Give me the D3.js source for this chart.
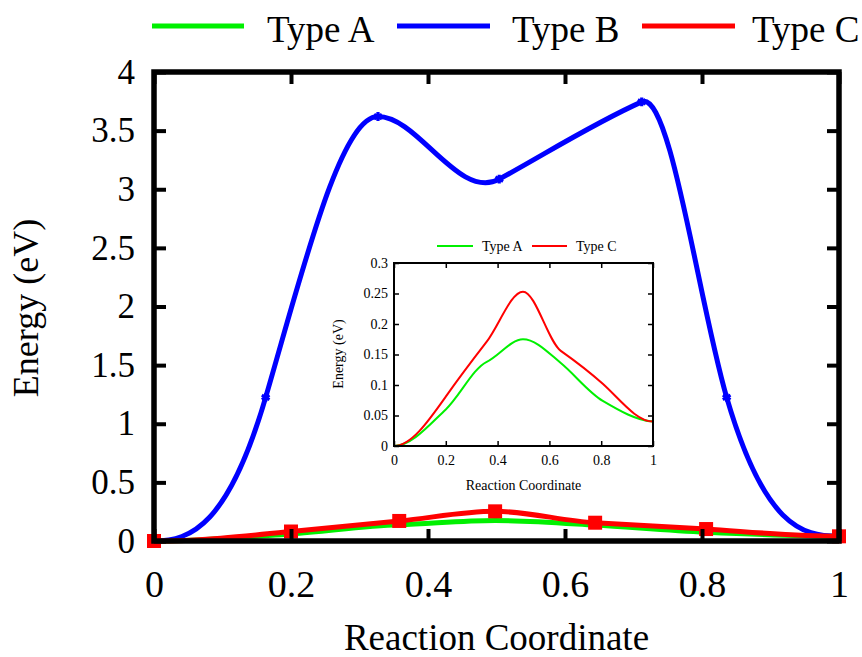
<!DOCTYPE html>
<html><head><meta charset="utf-8">
<script src="https://cdn.jsdelivr.net/npm/d3@7"></script>
<style>
html,body{margin:0;padding:0;background:#fff;}
svg{display:block;}
text{font-family:"Liberation Serif","Times New Roman",serif;fill:#000;}
</style></head>
<body><svg id="chart" width="862" height="657"></svg>
<script>
// ---- data ----
const seriesNames = ["Type A", "Type B", "Type C"];
const seriesColors = ["#00f000", "#0000ff", "#ff0000"];
const xB = [0, 0.163, 0.327, 0.504, 0.712, 0.836, 1];
const yB = [0, 1.225, 3.62, 3.086, 3.745, 1.225, 0.04];
const slopeB = [0, 20, 0, 3.2, 2.6, -20, 0];          // dE/dx at each image
const xAC = [0, 0.2, 0.358, 0.498, 0.644, 0.806, 1];
const yA = [0, 0.060, 0.138, 0.175, 0.136, 0.074, 0.04];
const slopeA = [0, 0.4, 0.2, 0, -0.35, -0.25, -0.03];
const yC = [0, 0.081, 0.171, 0.253, 0.156, 0.102, 0.04];
const slopeC = [0, 0.6, 0.55, 0, -0.3, -0.38, 0];
const xTicks = [0, 0.2, 0.4, 0.6, 0.8, 1];
const yTicksMain = [0, 0.5, 1, 1.5, 2, 2.5, 3, 3.5, 4];
const yTicksInset = [0, 0.05, 0.1, 0.15, 0.2, 0.25, 0.3];

const svg = d3.select("#chart");
const fmt = d => String(d);
const zip = (xs, ys) => xs.map((v,i)=>[v, ys[i]]);
const dataA = zip(xAC, yA), dataB = zip(xB, yB), dataC = zip(xAC, yC);

// cubic Hermite curve through the points with given tangents (converted to pixel space)
function hermite(slopes, xs, ys) {
  const k = (ys(1) - ys(0)) / (xs(1) - xs(0));
  const m = slopes.map(s => s * k);
  return function(context) {
    let pts = [];
    return {
      areaStart(){}, areaEnd(){},
      lineStart(){ pts = []; },
      point(px, py){ pts.push([+px, +py]); },
      lineEnd(){
        if (!pts.length) return;
        context.moveTo(pts[0][0], pts[0][1]);
        for (let i = 0; i < pts.length - 1; i++) {
          const [x0,y0] = pts[i], [x1,y1] = pts[i+1], h = (x1 - x0) / 3;
          context.bezierCurveTo(x0 + h, y0 + m[i]*h, x1 - h, y1 - m[i+1]*h, x1, y1);
        }
      }
    };
  };
}

// ---- main plot ----
const M = {l:154, r:839, t:72, b:541};
const x = d3.scaleLinear().domain([0,1]).range([M.l, M.r]);
const y = d3.scaleLinear().domain([0,4]).range([M.b, M.t]);
const mk = s => d3.line().x(d=>x(d[0])).y(d=>y(d[1])).curve(hermite(s, x, y));

const g = svg.append("g");
g.append("path").datum(dataA).attr("d", mk(slopeA)).attr("fill","none").attr("stroke",seriesColors[0]).attr("stroke-width",5);
g.append("path").datum(dataB).attr("d", mk(slopeB)).attr("fill","none").attr("stroke",seriesColors[1]).attr("stroke-width",5);
g.append("path").datum(dataC).attr("d", mk(slopeC)).attr("fill","none").attr("stroke",seriesColors[2]).attr("stroke-width",5);

// blue markers
g.selectAll(".mb").data(dataB.slice(1,6)).enter().append("path")
  .attr("transform", d=>`translate(${x(d[0])},${y(d[1])})`)
  .attr("d", d3.symbol(d3.symbolAsterisk, 55)())
  .attr("fill","none").attr("stroke",seriesColors[1]).attr("stroke-width",3.2);
// red square markers
g.selectAll(".mc").data(dataC).enter().append("rect")
  .attr("x", d=>x(d[0])-7).attr("y", d=>y(d[1])-7).attr("width",14).attr("height",14)
  .attr("fill",seriesColors[2]);

// axes (inward ticks, mirrored)
const axB = svg.append("g").attr("transform",`translate(0,${M.b})`)
  .call(d3.axisBottom(x).tickValues(xTicks).tickSize(-12).tickPadding(29).tickFormat(fmt));
const axT = svg.append("g").attr("transform",`translate(0,${M.t})`)
  .call(d3.axisTop(x).tickValues(xTicks).tickSize(-12).tickFormat(""));
const axL = svg.append("g").attr("transform",`translate(${M.l},0)`)
  .call(d3.axisLeft(y).tickValues(yTicksMain).tickSize(-12).tickPadding(19).tickFormat(fmt));
const axR = svg.append("g").attr("transform",`translate(${M.r},0)`)
  .call(d3.axisRight(y).tickValues(yTicksMain).tickSize(-12).tickFormat(""));
[axB,axT,axL,axR].forEach(a=>{
  a.select(".domain").remove();
  a.selectAll(".tick line").attr("stroke","#000").attr("stroke-width",4);
});
axB.selectAll("text").attr("font-size",38).attr("font-family","Liberation Serif");
axL.selectAll("text").attr("font-size",35).attr("font-family","Liberation Serif");
svg.append("rect").attr("x",M.l).attr("y",M.t).attr("width",M.r-M.l).attr("height",M.b-M.t)
  .attr("fill","none").attr("stroke","#000").attr("stroke-width",5.5);

svg.append("text").attr("x",(M.l+M.r)/2).attr("y",650).attr("text-anchor","middle")
  .attr("font-size",37).text("Reaction Coordinate");
svg.append("text").attr("transform",`translate(38,308) rotate(-90)`).attr("text-anchor","middle")
  .attr("font-size",36).text("Energy (eV)");

// main legend
const legX = [[152,244,267],[397,490,512],[642,735,752]];
seriesNames.forEach((n,i)=>{
  svg.append("line").attr("x1",legX[i][0]).attr("x2",legX[i][1]).attr("y1",26).attr("y2",26)
    .attr("stroke",seriesColors[i]).attr("stroke-width",5);
  svg.append("text").attr("x",legX[i][2]).attr("y",42).attr("font-size",37).text(n);
});

// ---- inset ----
const I = {l:394, r:653, t:263, b:446};
const xi = d3.scaleLinear().domain([0,1]).range([I.l, I.r]);
const yi = d3.scaleLinear().domain([0,0.3]).range([I.b, I.t]);
const mki = s => d3.line().x(d=>xi(d[0])).y(d=>yi(d[1])).curve(hermite(s, xi, yi));
const ig = svg.append("g");
ig.append("rect").attr("x",I.l).attr("y",I.t).attr("width",I.r-I.l).attr("height",I.b-I.t).attr("fill","#fff");
ig.append("path").datum(dataA).attr("d", mki(slopeA)).attr("fill","none").attr("stroke",seriesColors[0]).attr("stroke-width",2);
ig.append("path").datum(dataC).attr("d", mki(slopeC)).attr("fill","none").attr("stroke",seriesColors[2]).attr("stroke-width",2);
ig.selectAll(".ic").data(dataC).enter().append("path")
  .attr("transform", d=>`translate(${xi(d[0])},${yi(d[1])})`)
  .attr("d", d3.symbol(d3.symbolPlus, 14)())
  .attr("fill",seriesColors[2]);

const iB = ig.append("g").attr("transform",`translate(0,${I.b})`)
  .call(d3.axisBottom(xi).tickValues(xTicks).tickSize(-5).tickPadding(9).tickFormat(fmt));
const iT = ig.append("g").attr("transform",`translate(0,${I.t})`)
  .call(d3.axisTop(xi).tickValues(xTicks).tickSize(-5).tickFormat(""));
const iL = ig.append("g").attr("transform",`translate(${I.l},0)`)
  .call(d3.axisLeft(yi).tickValues(yTicksInset).tickSize(-5).tickPadding(6).tickFormat(fmt));
const iR = ig.append("g").attr("transform",`translate(${I.r},0)`)
  .call(d3.axisRight(yi).tickValues(yTicksInset).tickSize(-5).tickFormat(""));
[iB,iT,iL,iR].forEach(a=>{
  a.select(".domain").remove();
  a.selectAll(".tick line").attr("stroke","#000").attr("stroke-width",1.5);
  a.selectAll("text").attr("font-size",14).attr("font-family","Liberation Serif");
});
ig.append("rect").attr("x",I.l).attr("y",I.t).attr("width",I.r-I.l).attr("height",I.b-I.t)
  .attr("fill","none").attr("stroke","#000").attr("stroke-width",2);
ig.append("text").attr("x",(I.l+I.r)/2).attr("y",490).attr("text-anchor","middle")
  .attr("font-size",14).text("Reaction Coordinate");
ig.append("text").attr("transform",`translate(343,354) rotate(-90)`).attr("text-anchor","middle")
  .attr("font-size",14).text("Energy (eV)");
const iLeg = [[437,473,482,0],[532,567,576,2]];
iLeg.forEach(l=>{
  ig.append("line").attr("x1",l[0]).attr("x2",l[1]).attr("y1",246).attr("y2",246)
    .attr("stroke",seriesColors[l[3]]).attr("stroke-width",2);
  ig.append("text").attr("x",l[2]).attr("y",251).attr("font-size",14).text(seriesNames[l[3]]);
});
</script></body></html>
